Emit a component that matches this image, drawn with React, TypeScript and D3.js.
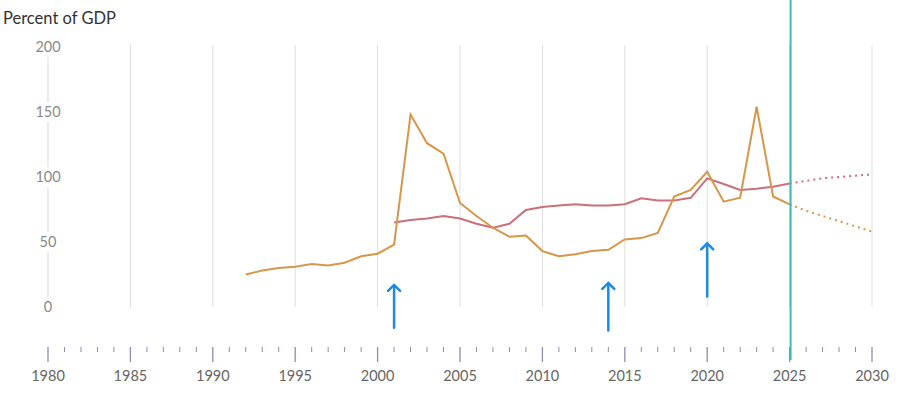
import React from 'react';
import * as d3 from 'd3';

// orange series, 1992-2025 actuals then projection
const orangeYears = d3.range(1992, 2026);
const orangeValues = [25, 28, 30, 31, 33, 32, 34, 39, 41, 48, 148, 126, 118, 80, 70, 61, 54, 55, 43, 39, 40.5, 43, 44, 52, 53, 57, 85, 90, 104, 81, 84, 154, 85, 79];
const orangeProjYears = [2025, 2026, 2027, 2028, 2029, 2030];
const orangeProjValues = [79, 74, 70, 66, 62, 58];

// red series, 2001-2025 then projection
const redYears = d3.range(2001, 2026);
const redValues = [65, 67, 68, 70, 68, 64, 61, 64, 74.6, 77, 78, 79, 78, 78, 79, 83.6, 82, 82, 84, 99, 94.6, 90, 91, 92.5, 95];
const redProjYears = [2025, 2026, 2027, 2028, 2029, 2030];
const redProjValues = [95, 97, 99, 100, 101, 102];

const yTicks = [0, 50, 100, 150, 200];
const xTicks = [1980, 1985, 1990, 1995, 2000, 2005, 2010, 2015, 2020, 2025, 2030];

// arrows: year, tail value, tip value
const arrowYears = [2001, 2014, 2020];
const arrowTail = [-16, -18, 8];
const arrowTip = [17, 18.5, 49];

const W = 903;
const H = 399;

export default function App() {
  const x = d3.scaleLinear().domain([1980, 2030]).range([48, 872]);
  const y = d3.scaleLinear().domain([0, 200]).range([307, 47]);

  const line = d3.line<[number, number]>()
    .x(d => x(d[0]))
    .y(d => y(d[1]));

  const zip = (a: number[], b: number[]) => a.map((v, i) => [v, b[i]] as [number, number]);

  const orange = '#d6974b';
  const red = '#c9707a';
  const blue = '#1e88e5';

  return (
    <svg width={W} height={H} style={{ position: 'absolute', left: 0, top: 0, fontFamily: 'Lato, sans-serif' }}>
      <text x={3} y={24} fontSize={16.5} fill="#333">Percent of GDP</text>

      {/* vertical grid */}
      {xTicks.slice(1).map(t => (
        <line key={t} x1={x(t)} x2={x(t)} y1={45} y2={y(0)} stroke="#dedede" strokeWidth={1} />
      ))}
      {/* left axis segments between labels */}
      {yTicks.slice(1).map(t => (
        <line key={t} x1={x(1980)} x2={x(1980)} y1={y(t) + 10} y2={y(t - 50) - 10} stroke="#e4e4e4" strokeWidth={1.5} />
      ))}
      {yTicks.map(t => (
        <text key={t} x={x(1980)} y={y(t)} dy="0.36em" textAnchor="middle" fontSize={14.5} fill="#8a8a8a">{t}</text>
      ))}

      {/* x axis ticks */}
      {d3.range(1980, 2031).map(yr => (
        <line key={yr} x1={x(yr)} x2={x(yr)} y1={347} y2={yr % 5 === 0 ? 362 : 352}
          stroke="#8e8cb0" strokeWidth={yr % 5 === 0 ? 1.3 : 1} />
      ))}
      {xTicks.map(t => (
        <text key={t} x={x(t)} y={381} textAnchor="middle" fontSize={14.5} fill="#666">{t}</text>
      ))}

      {/* series */}
      <path d={line(zip(redYears, redValues)) || ''} fill="none" stroke={red} strokeWidth={2} />
      <path d={line(zip(orangeYears, orangeValues)) || ''} fill="none" stroke={orange} strokeWidth={2} />
      <path d={line(zip(redProjYears, redProjValues)) || ''} fill="none" stroke={red} strokeWidth={2} strokeDasharray="2,4" />
      <path d={line(zip(orangeProjYears, orangeProjValues)) || ''} fill="none" stroke={orange} strokeWidth={2} strokeDasharray="2,4" />

      {/* current year marker */}
      <line x1={x(2025) + 1} x2={x(2025) + 1} y1={0} y2={360} stroke="#2cc0c4" strokeWidth={2} />

      {/* arrows */}
      {arrowYears.map((yr, i) => {
        const ax = x(yr);
        const tip = y(arrowTip[i]);
        const tail = y(arrowTail[i]);
        return (
          <g key={yr} stroke={blue} strokeWidth={2.5} fill="none" strokeLinecap="round">
            <line x1={ax} x2={ax} y1={tail} y2={tip + 1} />
            <path d={`M${ax - 6},${tip + 6} L${ax},${tip} L${ax + 6},${tip + 6}`} />
          </g>
        );
      })}
    </svg>
  );
}
